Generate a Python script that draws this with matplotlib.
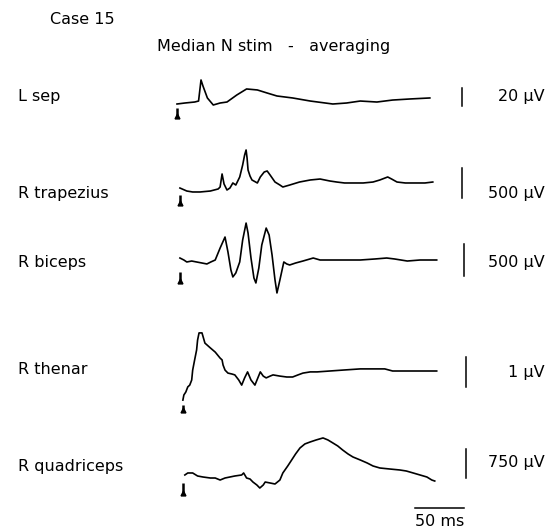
import matplotlib
matplotlib.use("Agg")
import matplotlib.pyplot as plt

W, H = 547, 530

# ---- data (time in ms from stimulus, amplitude in uV) ----
labels = ["L sep", "R trapezius", "R biceps", "R thenar", "R quadriceps"]
cal_values = [20, 500, 500, 1, 750]
cal_texts = ["20 \u00b5V", "500 \u00b5V", "500 \u00b5V", "1 \u00b5V", "750 \u00b5V"]

lsep_t = [0, 8, 18, 22, 24.5, 26.5, 31, 37, 44, 51, 61, 71, 82, 92, 102, 118,
          136, 159, 173, 187, 204, 220, 238, 258]
lsep_v = [0, 1.1, 2.2, 3.3, 26.7, 20, 6.7, -1.1, 1.1, 2.2, 10, 16.7, 15.6, 12.2,
          8.9, 6.7, 3.3, 0, 1.1, 3.3, 2.2, 4.4, 5.6, 6.7]

trap_t = [3, 10, 16, 23.5, 34, 42, 44, 46, 48, 51, 54, 57, 60, 64, 67, 69, 70.5,
          71.5, 72.5, 74.5, 76.5, 82, 85, 89, 92, 95, 100, 105, 108, 115, 125,
          136, 146, 156, 163, 171, 180, 190, 200, 207, 215, 219, 224.5, 233,
          241, 253, 261]
trap_v = [33, -17, -33, -33, -17, 17, 50, 267, 100, 0, 33, 117, 83, 217, 417, 583,
          667, 533, 333, 233, 167, 117, 217, 300, 317, 250, 133, 83, 50, 83, 133,
          167, 183, 150, 133, 117, 117, 117, 133, 167, 217, 183, 133, 117, 117,
          117, 133]

bic_t = [3, 7, 10, 15, 20, 25.5, 30.5, 34.5, 39, 44, 49, 52, 55, 57, 60, 64, 67,
         70.5, 72.5, 75.5, 78.5, 80.5, 83.5, 86.5, 91, 94, 97, 100, 102, 105, 109,
         112, 115, 121, 128.5, 139, 146, 159, 171, 187, 202, 214, 222, 235, 248,
         265]
bic_v = [31, 0, -31, -16, -31, -47, -62, -31, 0, 187, 359, 125, -156, -265, -203,
         -31, 312, 577, 421, 31, -281, -359, -125, 234, 499, 390, 78, -312, -515,
         -312, -31, -62, -78, -47, -16, 31, 0, 0, 0, 0, 16, 31, 16, -16, 0, 0]

then_t = [6, 7, 9, 11, 13, 15, 16, 18, 20, 21, 22.5, 25.5, 28.5, 34, 39, 44, 46,
          47, 49, 52, 56, 59, 63, 66, 69, 72, 75.5, 79.5, 82.5, 85, 88, 91, 95, 98,
          105, 112, 118, 123.5, 128.5, 136, 143, 156, 169, 187, 204, 212, 220, 238,
          253, 265]
then_v = [-0.97, -0.80, -0.70, -0.53, -0.47, -0.30, 0.03, 0.37, 0.70, 1.03, 1.27,
          1.27, 0.93, 0.77, 0.63, 0.43, 0.37, 0.20, 0.03, -0.07, -0.10, -0.13,
          -0.30, -0.47, -0.23, -0.03, -0.30, -0.47, -0.23, -0.03, -0.17, -0.23,
          -0.17, -0.13, -0.17, -0.20, -0.20, -0.13, -0.07, -0.03, -0.03, 0, 0.03,
          0.07, 0.07, 0.07, 0, 0, 0, 0]

quad_t = [8, 11, 16, 21, 26.5, 34, 39, 44, 49, 54, 59, 66, 68, 71, 74.5, 77.5, 81.5,
          84.5, 88, 90, 95, 100, 105, 108, 113, 117, 121, 125.5, 130.5, 136, 142,
          149, 154, 159, 164, 169, 174.5, 179.5, 187, 194, 200, 207, 217, 227.5,
          234, 241, 248, 255, 260, 263]
quad_v = [52, 104, 104, 26, 0, -26, -26, -78, -26, 0, 26, 52, 104, -26, -52, -130,
          -207, -285, -207, -130, -155, -181, -78, 104, 285, 440, 596, 751, 855,
          907, 958, 1010, 958, 881, 803, 699, 596, 518, 440, 363, 285, 233, 207,
          181, 155, 104, 52, 0, -78, -104]

traces = [(lsep_t, lsep_v), (trap_t, trap_v), (bic_t, bic_v),
          (then_t, then_v), (quad_t, quad_v)]
stim_times = [0, 3, 3, 6, 6]
time_bar_ms = 50

# ---- layout (pixels) ----
x0_px = 177            # t = 0
px_per_ms = 0.98
t_max = 280
baseline_px = [104, 190, 260, 371, 477]
bar_len_px = [18, 30, 32, 30, 29]
bar_bottom_px = [2, 8, 16, 16, 1]      # below baseline
bar_x_px = [462, 462, 464, 466, 466]
stim_px = [(4, 14), (5, 15), (12, 23), (34, 41), (6, 18)]
label_y_px = [97, 194, 262, 370, 467]
cal_label_y_px = [96, 194, 263, 372, 463]

fig = plt.figure(figsize=(W / 100, H / 100), dpi=100)
fig.patch.set_facecolor("white")
font = dict(family="DejaVu Sans", fontsize=11.5, color="black")


def fx(px):
    return px / W


def fy(py):
    return 1 - py / H


axes = []
for i, (t, v) in enumerate(traces):
    k = cal_values[i] / bar_len_px[i]         # uV per pixel
    half = 60
    ax = fig.add_axes([fx(x0_px), fy(baseline_px[i] + half),
                       t_max * px_per_ms / W, 2 * half / H])
    ax.set_xlim(0, t_max)
    ax.set_ylim(-half * k, half * k)
    ax.axis("off")
    ax.plot(t, v, color="black", lw=1.2, clip_on=False)
    # calibration bar
    tb = (bar_x_px[i] - x0_px) / px_per_ms
    b0 = -bar_bottom_px[i] * k
    ax.plot([tb, tb], [b0, b0 + cal_values[i]], color="black", lw=1.1,
            clip_on=False)
    # stimulus marker
    s0, s1 = stim_px[i]
    ax.plot([stim_times[i]] * 2, [-s0 * k, -s1 * k], color="black", lw=1.8,
            solid_capstyle="butt", clip_on=False)
    ax.plot(stim_times[i], -s1 * k + 2.5 * k, marker="^", ms=3.5, color="black",
            clip_on=False)
    axes.append(ax)

    fig.text(fx(18), fy(label_y_px[i]), labels[i], ha="left", va="center", **font)
    fig.text(fx(545), fy(cal_label_y_px[i]), cal_texts[i], ha="right",
             va="center", **font)

# time calibration bar (in the last trace's axes)
ax = axes[-1]
k = cal_values[-1] / bar_len_px[-1]
t_start = (415 - x0_px) / px_per_ms
ax.plot([t_start, t_start + time_bar_ms], [-31 * k, -31 * k], color="black",
        lw=1.1, clip_on=False)
fig.text(fx(440), fy(521), "50 ms", ha="center", va="center", **font)

fig.text(fx(50), fy(20), "Case 15", ha="left", va="center", **font)
fig.text(fx(274), fy(47), "Median N stim   -   averaging", ha="center",
         va="center", **font)

fig.savefig("out.png", dpi=100)
